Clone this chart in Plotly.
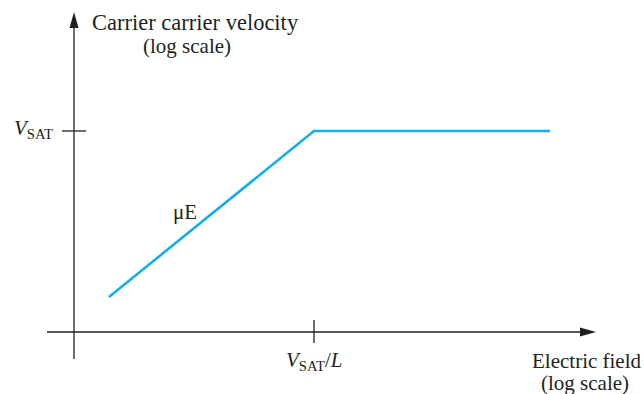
import math
import plotly.graph_objects as go

# Data (log-log schematic): electric field vs carrier velocity
field = [0.01, 1.0, 200.0]          # electric field (arbitrary units, log scale)
velocity = [0.01, 1.0, 1.0]         # carrier velocity (arbitrary units, log scale)
v_sat = 1.0
e_sat = 1.0
x_range_log = [-2.341, 2.741]
y_range_log = [-2.4217, 1.4217]

W, H = 644, 394
ML, MR, MT, MB = 74, 49, 13, 62
PW, PH = W - ML - MR, H - MT - MB

def px(p):
    return (p - ML) / PW

def py(p):
    return (H - MB - p) / PH

AX = "#231f20"
FONT = "Liberation Serif, Times New Roman, serif"
FS = 21

fig = go.Figure()
fig.add_trace(go.Scatter(
    x=field, y=velocity, mode="lines",
    line=dict(color="rgb(20,174,232)", width=2.6),
    hoverinfo="skip", showlegend=False,
))

shapes = [
    dict(type="line", xref="paper", yref="paper", x0=px(47), x1=px(585), y0=0, y1=0,
         line=dict(color=AX, width=1.3)),
    dict(type="line", xref="paper", yref="paper", x0=0, x1=0, y0=py(359), y1=py(24),
         line=dict(color=AX, width=1.3)),
    dict(type="path", xref="paper", yref="paper",
         path=f"M {px(596)} {py(332)} L {px(580)} {py(327.5)} L {px(580)} {py(336.5)} Z",
         fillcolor=AX, line=dict(width=0)),
    dict(type="path", xref="paper", yref="paper",
         path=f"M {px(74)} {py(12)} L {px(69.5)} {py(28)} L {px(78.5)} {py(28)} Z",
         fillcolor=AX, line=dict(width=0)),
    dict(type="line", xref="paper", yref="y", x0=px(62), x1=px(86), y0=v_sat, y1=v_sat,
         line=dict(color=AX, width=1.3)),
    dict(type="line", xref="x", yref="paper", x0=e_sat, x1=e_sat, y0=py(343), y1=py(320),
         line=dict(color=AX, width=1.3)),
]

def txt(text, x, y, xref="paper", yref="paper", xanchor="center", size=FS, yshift=0):
    return dict(text=text, xref=xref, yref=yref, x=x, y=y, xanchor=xanchor,
                yanchor="middle", showarrow=False, yshift=yshift,
                font=dict(size=size, family=FONT, color=AX))

ann = [
    txt("Carrier carrier velocity", px(195), py(22), size=22.5),
    txt("(log scale)", px(187), py(46)),
    txt("<i>V</i><sub>SAT</sub>", px(55), math.log10(v_sat), yref="y", xanchor="right", yshift=2),
    txt("<i>V</i><sub>SAT</sub>/<i>L</i>", math.log10(e_sat), py(361), xref="x"),
    txt("Electric field", px(587), py(361)),
    txt("(log scale)", px(585), py(383)),
    txt("μE", px(185), py(212)),
]

fig.update_layout(
    width=W, height=H,
    margin=dict(l=ML, r=MR, t=MT, b=MB),
    paper_bgcolor="white", plot_bgcolor="white",
    xaxis=dict(type="log", range=x_range_log, visible=False),
    yaxis=dict(type="log", range=y_range_log, visible=False),
    shapes=shapes, annotations=ann, showlegend=False,
)

fig.write_html("out.html", config={"displayModeBar": False},
               post_script="document.body.style.margin='0';")
